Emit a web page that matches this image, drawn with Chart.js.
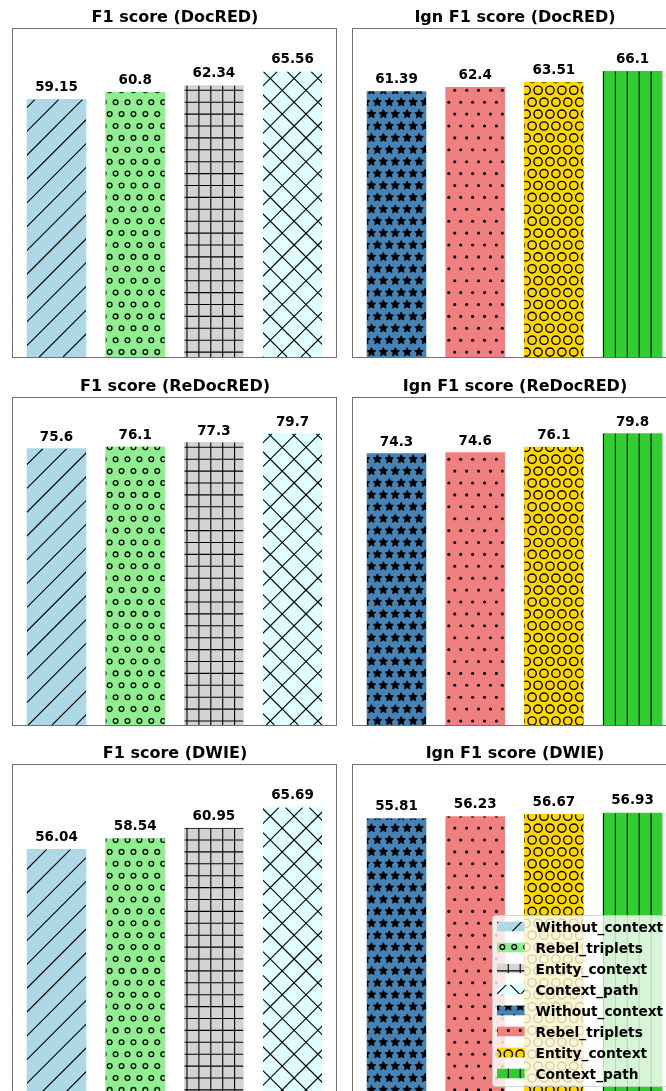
<!DOCTYPE html>
<html>
<head>
<meta charset="utf-8">
<script src="https://cdn.jsdelivr.net/npm/chart.js@4.4.0/dist/chart.umd.min.js"></script>
<style>
  html, body { margin: 0; padding: 0; background: #fff; overflow: hidden; width: 666px; height: 1091px; }
  canvas { position: absolute; }
</style>
</head>
<body>
<canvas id="c1"></canvas>
<canvas id="c2"></canvas>
<canvas id="c3"></canvas>
<canvas id="c4"></canvas>
<canvas id="c5"></canvas>
<canvas id="c6"></canvas>
<script>
// data
const categories = ['Without_context', 'Rebel_triplets', 'Entity_context', 'Context_path'];
const f1DocRED = [59.15, 60.8, 62.34, 65.56];
const ignDocRED = [61.39, 62.4, 63.51, 66.1];
const f1ReDocRED = [75.6, 76.1, 77.3, 79.7];
const ignReDocRED = [74.3, 74.6, 76.1, 79.8];
const f1DWIE = [56.04, 58.54, 60.95, 65.69];
const ignDWIE = [55.81, 56.23, 56.67, 56.93];

// styles
const leftColors = ['#ADD8E6', '#90EE90', '#D3D3D3', '#E0FFFF'];
const leftHatches = ['/', 'o', '+', 'x'];
const rightColors = ['#4682B4', '#F08080', '#FFD700', '#32CD32'];
const rightHatches = ['*', '.', 'O', '|'];
const FONT = '"DejaVu Sans", sans-serif';

// hatch grid (page coords)
const S = 11.9, PX = 8.5, PY = 7, E = 0;

function drawHatch(ctx, kind, L, T, R, B) {
  ctx.strokeStyle = '#000';
  ctx.fillStyle = '#000';
  ctx.lineWidth = 1.1;
  ctx.beginPath();
  if (kind === '|' || kind === '+') {
    for (let k = Math.floor((L - PX) / S); k <= Math.ceil((R - PX) / S); k++) {
      const x = PX + k * S;
      ctx.moveTo(x, T); ctx.lineTo(x, B);
    }
  }
  if (kind === '+') {
    for (let k = Math.floor((T - PY) / S); k <= Math.ceil((B - PY) / S); k++) {
      const y = PY + k * S;
      ctx.moveTo(L, y); ctx.lineTo(R, y);
    }
  }
  if (kind === '/' || kind === 'x') {
    const c0 = PX + PY + E * S, step = 2 * S;
    for (let m = Math.floor((L + T - c0) / step); m <= Math.ceil((R + B - c0) / step); m++) {
      const c = c0 + m * step;
      ctx.moveTo(c - B, B); ctx.lineTo(c - T, T);
    }
  }
  if (kind === 'x') {
    const c0 = PX - PY + E * S, step = 2 * S;
    for (let m = Math.floor((L - B - c0) / step); m <= Math.ceil((R - T - c0) / step); m++) {
      const c = c0 + m * step;
      ctx.moveTo(c + T, T); ctx.lineTo(c + B, B);
    }
  }
  ctx.stroke();

  const shape = { 'o': { r: 0.2 * S, fill: false }, 'O': { r: 0.35 * S, fill: false },
                  '.': { r: 0.13 * S, fill: true }, '*': { r: 0.38 * S, fill: true, star: true } }[kind];
  if (!shape) return;
  for (let j = Math.floor((T - PY) / S) - 1; j <= Math.ceil((B - PY) / S) + 1; j++) {
    const y = PY + j * S;
    const shift = (((j + E) % 2) + 2) % 2 ? 0.5 : 0;
    for (let i = Math.floor((L - PX) / S) - 1; i <= Math.ceil((R - PX) / S) + 1; i++) {
      const x = PX + (i + shift) * S;
      ctx.beginPath();
      if (shape.star) {
        for (let t = 0; t < 10; t++) {
          const a = -Math.PI / 2 + t * Math.PI / 5;
          const rr = t % 2 ? shape.r * 0.5 : shape.r;
          t ? ctx.lineTo(x + rr * Math.cos(a), y + rr * Math.sin(a)) : ctx.moveTo(x + rr * Math.cos(a), y + rr * Math.sin(a));
        }
        ctx.closePath();
        ctx.fill();
        ctx.lineWidth = 0.8;
        ctx.stroke();
      } else if (shape.fill) {
        ctx.arc(x, y, shape.r, 0, Math.PI * 2);
        ctx.fill();
      } else {
        ctx.arc(x, y, shape.r, 0, Math.PI * 2);
        ctx.lineWidth = kind === 'O' ? 1.4 : 1.3;
        ctx.stroke();
      }
    }
  }
}

function drawLegend(ctx, area, p) {
  const entries = categories.map((c, i) => ({ label: c, color: leftColors[i], hatch: leftHatches[i] }))
    .concat(categories.map((c, i) => ({ label: c, color: rightColors[i], hatch: rightHatches[i] })));
  const R = area.right - 7, B = area.bottom - 7;
  const L = R - 178, T = B - 171;
  ctx.save();
  ctx.beginPath();
  ctx.roundRect(L + 0.5, T + 0.5, R - L, B - T, 3);
  ctx.fillStyle = 'rgba(255,255,255,0.8)';
  ctx.fill();
  ctx.strokeStyle = 'rgba(204,204,204,0.8)';
  ctx.lineWidth = 1;
  ctx.stroke();
  entries.forEach((e, k) => {
    const cy = T + 11.5 + 21 * k;
    const hx = L + 5, hw = 27.5, hh = 9.6;
    ctx.fillStyle = e.color;
    ctx.fillRect(hx, cy - hh / 2, hw, hh);
    ctx.save();
    ctx.beginPath();
    ctx.rect(hx, cy - hh / 2, hw, hh);
    ctx.clip();
    ctx.translate(-p.ox, -p.oy);
    drawHatch(ctx, e.hatch, hx + p.ox, cy - hh / 2 + p.oy, hx + hw + p.ox, cy + hh / 2 + p.oy);
    ctx.restore();
    ctx.fillStyle = '#000';
    ctx.font = 'bold 13.75px ' + FONT;
    ctx.textAlign = 'left';
    ctx.textBaseline = 'alphabetic';
    ctx.fillText(e.label, hx + hw + 11, cy + 5);
  });
  ctx.restore();
}

function makeDeco(p) {
  return {
    id: 'deco',
    afterDatasetsDraw(chart) {
      const ctx = chart.ctx;
      const area = chart.chartArea;
      const yScale = chart.scales.y;
      chart.getDatasetMeta(0).data.forEach((bar, i) => {
        const { x, y, base, width } = bar.getProps(['x', 'y', 'base', 'width'], true);
        ctx.save();
        ctx.beginPath();
        ctx.rect(x - width / 2, y, width, base - y);
        ctx.clip();
        ctx.translate(-p.ox, -p.oy);
        drawHatch(ctx, p.hatches[i], x - width / 2 + p.ox, y + p.oy, x + width / 2 + p.ox, base + p.oy);
        ctx.restore();
        ctx.save();
        ctx.font = 'bold 13.5px ' + FONT;
        ctx.fillStyle = '#000';
        ctx.textAlign = 'center';
        ctx.textBaseline = 'alphabetic';
        ctx.fillText(String(p.values[i]), x, yScale.getPixelForValue(p.values[i] + 1) - 4);
        ctx.restore();
      });
      ctx.save();
      ctx.strokeStyle = '#707070';
      ctx.lineWidth = 1;
      ctx.strokeRect(area.left - 0.5, area.top + 0.5, area.right - area.left, area.bottom - area.top);
      ctx.font = 'bold 16px ' + FONT;
      ctx.textAlign = 'center';
      ctx.fillStyle = '#000';
      ctx.fillText(p.title, (area.left + area.right) / 2, area.top - 6);
      ctx.restore();
      if (p.legend) drawLegend(ctx, area, p);
    }
  };
}

// layout of the 3x2 grid (page px)
const cols = [
  { cx: 0, w: 345, axL: 13, axR: 337, colors: leftColors, hatches: leftHatches },
  { cx: 345, w: 340, axL: 353, axR: 677, colors: rightColors, hatches: rightHatches }
];
const rows = [
  { cy: 0, h: 377, axT: 28, axB: 357 },
  { cy: 377, h: 368, axT: 397, axB: 725 },
  { cy: 745, h: 360, axT: 764, axB: 1093 }
];

const panels = [
  { id: 'c1', values: f1DocRED, title: 'F1 score (DocRED)', col: 0, row: 0 },
  { id: 'c2', values: ignDocRED, title: 'Ign F1 score (DocRED)', col: 1, row: 0 },
  { id: 'c3', values: f1ReDocRED, title: 'F1 score (ReDocRED)', col: 0, row: 1 },
  { id: 'c4', values: ignReDocRED, title: 'Ign F1 score (ReDocRED)', col: 1, row: 1 },
  { id: 'c5', values: f1DWIE, title: 'F1 score (DWIE)', col: 0, row: 2 },
  { id: 'c6', values: ignDWIE, title: 'Ign F1 score (DWIE)', col: 1, row: 2, legend: true }
];

panels.forEach(p => {
  const c = cols[p.col], r = rows[p.row];
  const canvas = document.getElementById(p.id);
  canvas.width = c.w;
  canvas.height = r.h;
  canvas.style.left = c.cx + 'px';
  canvas.style.top = r.cy + 'px';
  p.ox = c.cx;
  p.oy = r.cy;
  p.hatches = c.hatches;
  const unit = (c.axR - c.axL) / 4.118;

  new Chart(canvas, {
    type: 'bar',
    data: {
      datasets: [{
        label: p.title,
        data: p.values.map((v, i) => ({ x: i, y: v })),
        backgroundColor: c.colors,
        borderWidth: 0,
        barThickness: unit * 0.75
      }]
    },
    options: {
      responsive: false,
      animation: false,
      events: [],
      layout: { padding: { left: c.axL - c.cx, right: c.cx + c.w - c.axR, top: r.axT - r.cy, bottom: r.cy + r.h - r.axB } },
      scales: {
        x: { type: 'linear', display: false, min: -0.553, max: 3.565, offset: false },
        y: { display: false, min: 0, max: Math.max(...p.values) + 10 }
      },
      plugins: { legend: { display: false }, tooltip: { enabled: false } }
    },
    plugins: [makeDeco(p)]
  });
});
</script>
</body>
</html>
